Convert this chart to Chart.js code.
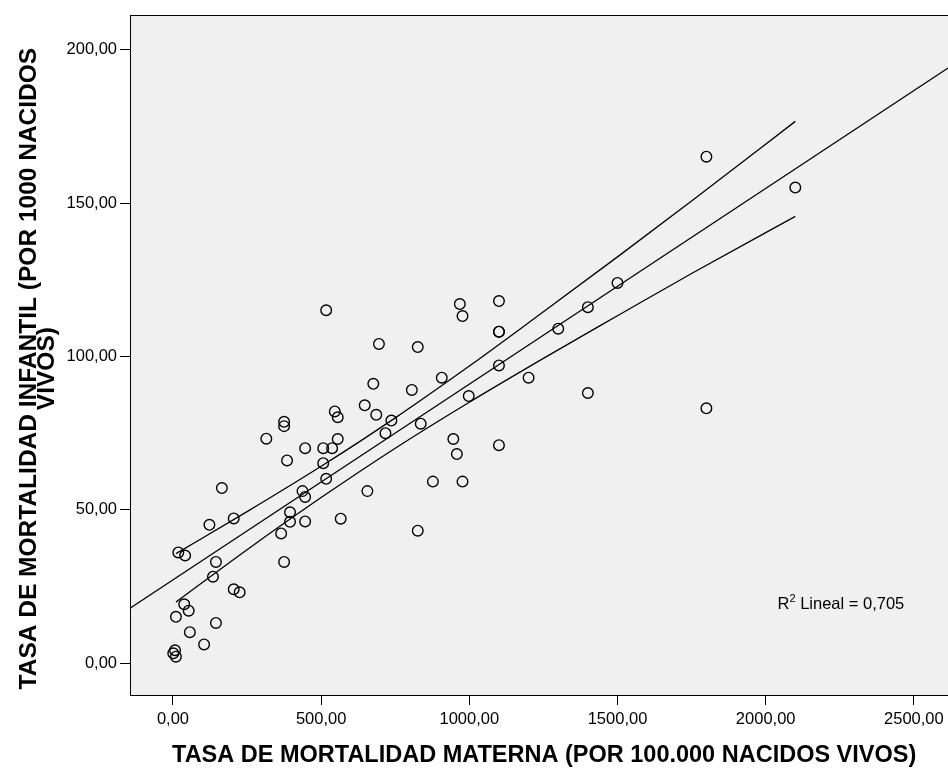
<!DOCTYPE html>
<html>
<head>
<meta charset="utf-8">
<title>Tasa de mortalidad materna vs infantil</title>
<script src="https://cdn.jsdelivr.net/npm/chart.js@4.4.0/dist/chart.umd.min.js"></script>
<style>
  html, body { margin: 0; padding: 0; background: #fff; overflow: hidden; }
  #contenedor { width: 965px; height: 769px; }
</style>
</head>
<body>
<div id="contenedor"><canvas id="dispersionChart"></canvas></div>
<script>
// --- 1. DATOS ---
const tasaMaterna = [
    1, 7, 10, 10, 38, 53, 57, 105, 145, 135,
    145, 18, 41, 123, 165, 205, 205, 225, 315, 375,
    375, 385, 395, 395, 365, 375, 437, 446, 446, 446,
    507, 537, 556, 507, 517, 566, 656, 517, 546, 556,
    647, 686, 737, 717, 836, 695, 826, 676, 806, 826,
    877, 907, 946, 958, 977, 998, 968, 977, 1100, 1100,
    1100, 1100, 1100, 1200, 1300, 1400, 1500, 1400, 1800, 2100,
    1800
];
const tasaInfantil = [
    3.2, 4.2, 2.1, 15.1, 19.2, 17.1, 10.1, 6.1, 13.1, 28.2,
    33.0, 36.1, 35.1, 45.1, 57.1, 47.2, 24.1, 23.1, 73.2, 78.7,
    77.3, 66.1, 49.2, 46.1, 42.3, 33.0, 56.1, 54.2, 46.2, 70.1,
    70.1, 70.1, 73.1, 65.2, 60.1, 47.1, 56.1, 115.1, 82.1, 80.2,
    84.1, 81.0, 79.1, 75.0, 78.1, 104.1, 103.1, 91.1, 89.1, 43.2,
    59.2, 93.1, 73.1, 68.2, 59.2, 87.1, 117.1, 113.2, 118.1, 108.1,
    108.1, 97.1, 71.1, 93.1, 109.1, 116.1, 124.0, 88.1, 165.2, 155.1,
    83.1
];

const ajusteX = [-145, 2650];
const ajusteY = [17.9, 196.3];

// bandas de confianza de la media
const bandaX = [10, 250, 500, 750, 1000, 1250, 1500, 1750, 2100];
const bandaSuperior = [35.7, 49.4, 64.2, 80.0, 96.9, 114.6, 132.5, 150.7, 176.7];
const bandaInferior = [19.9, 37.0, 54.0, 70.1, 85.1, 99.4, 113.3, 127.1, 145.7];

const ticksX = [0, 500, 1000, 1500, 2000, 2500];
const ticksY = [0, 50, 100, 150, 200];

const textoR2 = 'Lineal = 0,705';

// --- 2. AUXILIARES ---
function aPuntos(xs, ys) {
    return xs.map((x, i) => ({ x: x, y: ys[i] }));
}

function formatoComa(value) {
    return value.toFixed(2).replace('.', ',');
}

const fuenteTicks = { family: 'Liberation Sans, Arial, sans-serif', size: 16.5 };
const fuenteTituloX = { family: 'Liberation Sans Narrow, Arial Narrow, Liberation Sans, sans-serif', size: 23.5, weight: 'bold', lineHeight: 1 };
const fuenteTituloY = { family: 'Liberation Sans Narrow, Arial Narrow, Liberation Sans, sans-serif', size: 24.5, weight: 'bold', lineHeight: 0.74 };

// fondo gris del área, marco y texto R2
const fondoPlot = {
    id: 'fondoPlot',
    beforeDraw(chart) {
        const { ctx, chartArea: a } = chart;
        ctx.save();
        ctx.fillStyle = '#f0f0f0';
        ctx.fillRect(a.left, a.top, a.right - a.left, a.bottom - a.top);
        ctx.restore();
    },
    afterDraw(chart) {
        const { ctx, chartArea: a, scales } = chart;
        ctx.save();
        ctx.strokeStyle = '#000';
        ctx.lineWidth = 1;
        ctx.strokeRect(a.left + 0.5, a.top + 0.5, a.right - a.left, a.bottom - a.top);

        const px = scales.x.getPixelForValue(2040);
        const py = scales.y.getPixelForValue(19.2);
        ctx.fillStyle = '#000';
        ctx.textBaseline = 'middle';
        ctx.font = '16.5px Liberation Sans, Arial, sans-serif';
        ctx.fillText('R', px, py);
        let w = ctx.measureText('R').width;
        ctx.font = '11px Liberation Sans, Arial, sans-serif';
        ctx.fillText('2', px + w, py - 5);
        w += ctx.measureText('2').width;
        ctx.font = '16.5px Liberation Sans, Arial, sans-serif';
        ctx.fillText(' ' + textoR2, px + w, py);
        ctx.restore();
    }
};

// --- 3. GRÁFICO ---
const ctxDispersion = document.getElementById('dispersionChart').getContext('2d');
new Chart(ctxDispersion, {
    type: 'scatter',
    data: {
        datasets: [
            {
                label: 'Observado',
                data: aPuntos(tasaMaterna, tasaInfantil),
                pointStyle: 'circle',
                pointRadius: 5.3,
                pointBorderWidth: 1.4,
                pointBackgroundColor: 'transparent',
                pointBorderColor: '#000'
            },
            {
                type: 'line',
                label: 'Lineal',
                data: aPuntos(ajusteX, ajusteY),
                borderColor: '#000',
                borderWidth: 1.3,
                pointRadius: 0,
                fill: false
            },
            {
                type: 'line',
                label: 'IC superior',
                data: aPuntos(bandaX, bandaSuperior),
                borderColor: '#000',
                borderWidth: 1.3,
                pointRadius: 0,
                cubicInterpolationMode: 'monotone',
                fill: false
            },
            {
                type: 'line',
                label: 'IC inferior',
                data: aPuntos(bandaX, bandaInferior),
                borderColor: '#000',
                borderWidth: 1.3,
                pointRadius: 0,
                cubicInterpolationMode: 'monotone',
                fill: false
            }
        ]
    },
    options: {
        responsive: true,
        maintainAspectRatio: false,
        animation: false,
        events: [],
        layout: { padding: { top: 15, left: 0, right: 5, bottom: 0 } },
        plugins: {
            legend: { display: false },
            tooltip: { enabled: false }
        },
        scales: {
            x: {
                type: 'linear',
                min: -145,
                max: 2650,
                afterBuildTicks: scale => { scale.ticks = ticksX.map(v => ({ value: v })); },
                afterFit: scale => { scale.height = 74; },
                grid: { drawOnChartArea: false, drawTicks: true, tickLength: 10, color: '#000' },
                border: { display: false },
                ticks: { color: '#000', font: fuenteTicks, padding: 5, maxRotation: 0, callback: formatoComa },
                title: {
                    display: true,
                    text: 'TASA DE MORTALIDAD MATERNA (POR 100.000 NACIDOS VIVOS)',
                    color: '#000',
                    font: fuenteTituloX,
                    padding: { top: 0, bottom: 2 }
                }
            },
            y: {
                type: 'linear',
                min: -10.4,
                max: 211.4,
                afterBuildTicks: scale => { scale.ticks = ticksY.map(v => ({ value: v })); },
                afterFit: scale => { scale.width = 130; },
                grid: { drawOnChartArea: false, drawTicks: true, tickLength: 10, color: '#000' },
                border: { display: false },
                ticks: { color: '#000', font: fuenteTicks, padding: 3, callback: formatoComa },
                title: {
                    display: true,
                    // espacios finales para bajar el texto centrado como en el original
                    text: ['TASA DE MORTALIDAD INFANTIL (POR 1000 NACIDOS    ', 'VIVOS)    '],
                    color: '#000',
                    font: fuenteTituloY,
                    padding: { top: 20, bottom: 0 }
                }
            }
        }
    },
    plugins: [fondoPlot]
});
</script>
</body>
</html>
